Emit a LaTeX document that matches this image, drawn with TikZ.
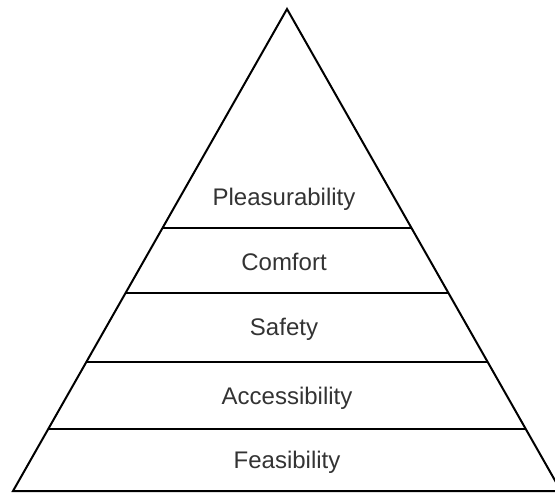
\documentclass[tikz,border=0pt]{standalone}
\usepackage{fontspec}
\setmainfont{Liberation Sans}
\usetikzlibrary{calc}

\begin{document}
\begin{tikzpicture} [x=0.5pt,y=-0.5pt,every node/.style={font=\fontsize{12}{14}\selectfont,text=black!80}]
\useasboundingbox (0,0) rectangle (555,493);
\clip (0,0) rectangle (555,493);

\coordinate (top) at (287,9);
\coordinate (bl) at (13,491);
\coordinate (br) at (561,491);

\draw[line width=1pt] (top) -- (bl) -- (br) -- cycle;

\foreach \lvl/\t in {a/0.4544,b/0.589,c/0.732,d/0.871}{
  \coordinate (l\lvl) at ($(top)!\t!(bl)$);
  \coordinate (r\lvl) at ($(top)!\t!(br)$);
}

\foreach \from/\to in {la/ra,lb/rb,lc/rc,ld/rd}
\draw[line width=1pt] (\from) -- (\to);

\node (pleas) at (284,199) {Pleasurability};
\node (comf) at (284,262) {Comfort};
\node (safe) at (284,329) {Safety};
\node (acc) at (287,398) {Accessibility};
\node (feas) at (287,462) {Feasibility};

\end{tikzpicture}
\end{document}
